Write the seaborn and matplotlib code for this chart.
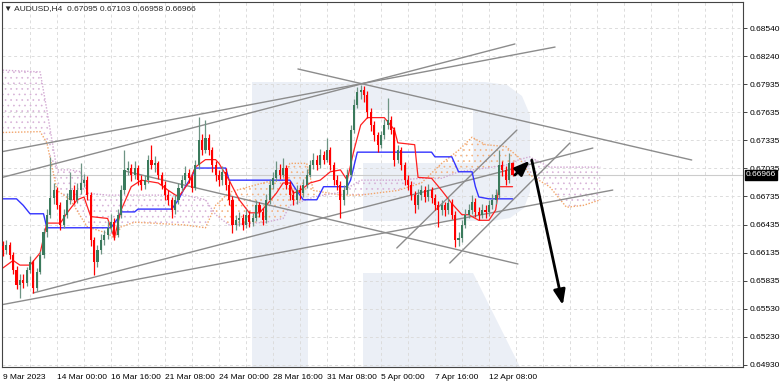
import numpy as np
import matplotlib
matplotlib.use("Agg")
import matplotlib.pyplot as plt
import seaborn as sns
from matplotlib.patches import Polygon

# ---------------- data ----------------
closes = [0.6616, 0.6622, 0.6611, 0.6595, 0.6579, 0.6584, 0.6581, 0.6595, 0.6603, 0.6575,
          0.6593, 0.6611, 0.6635, 0.6654, 0.6672, 0.6680, 0.6664, 0.6643, 0.6654, 0.6670,
          0.6680, 0.6670, 0.6680, 0.6688, 0.6691, 0.6675, 0.6627, 0.6603, 0.6616, 0.6627,
          0.6632, 0.6640, 0.6646, 0.6632, 0.6654, 0.6680, 0.6702, 0.6704, 0.6697, 0.6704,
          0.6691, 0.6686, 0.6691, 0.6713, 0.6707, 0.6709, 0.6697, 0.6686, 0.6675, 0.6670,
          0.6659, 0.6670, 0.6683, 0.6691, 0.6699, 0.6693, 0.6683, 0.6707, 0.6734, 0.6723,
          0.6736, 0.6723, 0.6707, 0.6697, 0.6691, 0.6700, 0.6686, 0.6670, 0.6643, 0.6648,
          0.6650, 0.6643, 0.6654, 0.6646, 0.6650, 0.6664, 0.6657, 0.6648, 0.6670, 0.6686,
          0.6693, 0.6702, 0.6697, 0.6704, 0.6686, 0.6675, 0.6670, 0.6680, 0.6677, 0.6686,
          0.6697, 0.6707, 0.6713, 0.6707, 0.6718, 0.6713, 0.6723, 0.6707, 0.6691, 0.6686,
          0.6670, 0.6680, 0.6697, 0.6745, 0.6772, 0.6785, 0.6788, 0.6782, 0.6764, 0.6750,
          0.6739, 0.6729, 0.6739, 0.6750, 0.6755, 0.6745, 0.6713, 0.6723, 0.6707, 0.6691,
          0.6686, 0.6675, 0.6664, 0.6675, 0.6680, 0.6673, 0.6680, 0.6672, 0.6664, 0.6659,
          0.6664, 0.6659, 0.6667, 0.6654, 0.6627, 0.6629, 0.6643, 0.6654, 0.6659, 0.6668,
          0.6657, 0.6654, 0.6659, 0.6657, 0.6664, 0.6670, 0.6675, 0.6707, 0.6702, 0.6691,
          0.67095, 0.66966]

opens = [0.6620, 0.6616, 0.6622, 0.6611, 0.6595, 0.6579, 0.6584, 0.6581, 0.6595, 0.6603,
         0.6575, 0.6593, 0.6611, 0.6635, 0.6654, 0.6672, 0.6680, 0.6664, 0.6643, 0.6654,
         0.6670, 0.6680, 0.6670, 0.6680, 0.6688, 0.6691, 0.6675, 0.6627, 0.6603, 0.6616,
         0.6627, 0.6632, 0.6640, 0.6646, 0.6632, 0.6654, 0.6680, 0.6702, 0.6704, 0.6697,
         0.6704, 0.6691, 0.6686, 0.6691, 0.6713, 0.6707, 0.6709, 0.6697, 0.6686, 0.6675,
         0.6670, 0.6659, 0.6670, 0.6683, 0.6691, 0.6699, 0.6693, 0.6683, 0.6707, 0.6734,
         0.6723, 0.6736, 0.6723, 0.6707, 0.6697, 0.6691, 0.6700, 0.6686, 0.6670, 0.6643,
         0.6648, 0.6650, 0.6643, 0.6654, 0.6646, 0.6650, 0.6664, 0.6657, 0.6648, 0.6670,
         0.6686, 0.6693, 0.6702, 0.6697, 0.6704, 0.6686, 0.6675, 0.6670, 0.6680, 0.6677,
         0.6686, 0.6697, 0.6707, 0.6713, 0.6707, 0.6718, 0.6713, 0.6723, 0.6707, 0.6691,
         0.6686, 0.6670, 0.6680, 0.6697, 0.6745, 0.6772, 0.6785, 0.6788, 0.6782, 0.6764,
         0.6750, 0.6739, 0.6729, 0.6739, 0.6750, 0.6755, 0.6745, 0.6713, 0.6723, 0.6707,
         0.6691, 0.6686, 0.6675, 0.6664, 0.6675, 0.6680, 0.6673, 0.6680, 0.6672, 0.6664,
         0.6659, 0.6664, 0.6659, 0.6667, 0.6654, 0.6627, 0.6629, 0.6643, 0.6654, 0.6659,
         0.6668, 0.6657, 0.6654, 0.6659, 0.6657, 0.6664, 0.6670, 0.6675, 0.6707, 0.6702,
         0.6691, 0.67095]

highs = [0.6626, 0.6627, 0.6625, 0.6614, 0.6599, 0.6590, 0.6590, 0.6598, 0.6610, 0.6606,
         0.6597, 0.6615, 0.6640, 0.6660, 0.6716, 0.6688, 0.6684, 0.6668, 0.6660, 0.6677,
         0.6700, 0.6686, 0.6688, 0.6709, 0.6698, 0.6695, 0.6678, 0.6630, 0.6622, 0.6633,
         0.6638, 0.6647, 0.6655, 0.6650, 0.6660, 0.6686, 0.6723, 0.6712, 0.6708, 0.6711,
         0.6707, 0.6696, 0.6697, 0.6718, 0.6729, 0.6717, 0.6712, 0.6700, 0.6690, 0.6680,
         0.6673, 0.6675, 0.6688, 0.6697, 0.6706, 0.6703, 0.6697, 0.6713, 0.6759, 0.6740,
         0.6755, 0.6740, 0.6727, 0.6712, 0.6702, 0.6706, 0.6704, 0.6690, 0.6674, 0.6654,
         0.6657, 0.6655, 0.6660, 0.6658, 0.6656, 0.6670, 0.6668, 0.6661, 0.6676, 0.6692,
         0.6700, 0.6712, 0.6708, 0.6715, 0.6707, 0.6690, 0.6680, 0.6686, 0.6686, 0.6692,
         0.6703, 0.6713, 0.6720, 0.6718, 0.6724, 0.6722, 0.6736, 0.6727, 0.6710, 0.6696,
         0.6690, 0.6686, 0.6703, 0.6750, 0.6778, 0.6791, 0.6793, 0.6792, 0.6786, 0.6768,
         0.6754, 0.6743, 0.6744, 0.6756, 0.6779, 0.6760, 0.6748, 0.6729, 0.6727, 0.6710,
         0.6696, 0.6690, 0.6679, 0.6681, 0.6686, 0.6685, 0.6687, 0.6684, 0.6676, 0.6669,
         0.6670, 0.6668, 0.6673, 0.6671, 0.6658, 0.6636, 0.6648, 0.6660, 0.6666, 0.6675,
         0.6672, 0.6662, 0.6665, 0.6664, 0.6670, 0.6676, 0.6681, 0.6723, 0.6712, 0.6706,
         0.6720, 0.67103]

lows = [0.6610, 0.6612, 0.6607, 0.6590, 0.6574, 0.6565, 0.6575, 0.6578, 0.6592, 0.6570,
        0.6572, 0.6590, 0.6608, 0.6630, 0.6650, 0.6666, 0.6660, 0.6638, 0.6640, 0.6651,
        0.6666, 0.6665, 0.6667, 0.6676, 0.6684, 0.6670, 0.6620, 0.6589, 0.6598, 0.6612,
        0.6622, 0.6628, 0.6636, 0.6627, 0.6630, 0.6650, 0.6676, 0.6696, 0.6690, 0.6692,
        0.6686, 0.6680, 0.6682, 0.6688, 0.6703, 0.6700, 0.6692, 0.6681, 0.6670, 0.6664,
        0.6651, 0.6655, 0.6666, 0.6679, 0.6687, 0.6688, 0.6678, 0.6680, 0.6703, 0.6718,
        0.6720, 0.6718, 0.6700, 0.6690, 0.6685, 0.6686, 0.6680, 0.6664, 0.6634, 0.6638,
        0.6642, 0.6638, 0.6640, 0.6641, 0.6642, 0.6647, 0.6652, 0.6643, 0.6645, 0.6666,
        0.6682, 0.6690, 0.6692, 0.6694, 0.6681, 0.6670, 0.6664, 0.6666, 0.6671, 0.6673,
        0.6683, 0.6694, 0.6703, 0.6702, 0.6704, 0.6708, 0.6710, 0.6702, 0.6686, 0.6680,
        0.6651, 0.6664, 0.6676, 0.6694, 0.6741, 0.6768, 0.6778, 0.6775, 0.6758, 0.6744,
        0.6733, 0.6721, 0.6725, 0.6735, 0.6746, 0.6740, 0.6706, 0.6709, 0.6702, 0.6686,
        0.6680, 0.6670, 0.6656, 0.6660, 0.6670, 0.6668, 0.6669, 0.6667, 0.6659, 0.6641,
        0.6654, 0.6653, 0.6655, 0.6649, 0.6619, 0.6621, 0.6625, 0.6640, 0.6650, 0.6655,
        0.6652, 0.6648, 0.6650, 0.6651, 0.6653, 0.6660, 0.6666, 0.6672, 0.6695, 0.6686,
        0.6688, 0.66958]

tenkan_bars = [0, 3, 5, 8, 11, 13, 17, 19, 22, 24, 26, 31, 33, 35, 38, 41, 46, 49, 52, 55,
               57, 60, 63, 64, 67, 70, 73, 76, 78, 81, 83, 85, 86, 88, 91, 94, 97, 100, 102, 104,
               106, 108, 113, 116, 117, 122, 123, 127, 130, 133, 136, 138, 141, 144, 146, 147, 151]
tenkan_vals = [0.6597, 0.6605, 0.6600, 0.6600, 0.6613, 0.6645, 0.6645, 0.6656, 0.6670, 0.6673,
               0.6652, 0.6650, 0.6629, 0.6659, 0.6684, 0.6691, 0.6688, 0.6680, 0.6673, 0.6688,
               0.6705, 0.6713, 0.6713, 0.6709, 0.6691, 0.6670, 0.6656, 0.6656, 0.6664, 0.6677,
               0.6688, 0.6688, 0.6677, 0.6680, 0.6688, 0.6691, 0.6700, 0.6702, 0.6691, 0.6723,
               0.6750, 0.6758, 0.6758, 0.6745, 0.6731, 0.6729, 0.6694, 0.6693, 0.6680, 0.6666,
               0.6654, 0.6654, 0.6648, 0.6648, 0.6659, 0.6684, 0.6684]

kijun_bars = [0, 4, 6, 8, 12, 13, 32, 34, 35, 39, 40, 50, 52, 54, 56, 57, 66, 67, 85, 87,
              89, 93, 95, 102, 103, 105, 127, 128, 133, 135, 139, 140, 141, 144, 151]
kijun_vals = [0.6671, 0.6671, 0.6664, 0.6655, 0.6655, 0.6640, 0.6640, 0.6650, 0.6657, 0.6657,
              0.6660, 0.6660, 0.6670, 0.6684, 0.6695, 0.6704, 0.6704, 0.6691, 0.6691, 0.6680,
              0.6670, 0.6670, 0.6684, 0.6684, 0.6691, 0.6721, 0.6721, 0.6716, 0.6716, 0.6700,
              0.6700, 0.6684, 0.6673, 0.6671, 0.6671]

cloud_bars = [-1, 11, 13, 16, 20, 23, 25, 31, 33, 35, 39, 54, 60, 63, 67, 78, 83, 85, 90, 92,
              100, 106, 117, 124, 130, 135, 139, 143, 149, 153, 156, 162, 167, 172, 177]
span_a = [0.6742, 0.6743, 0.6731, 0.6680, 0.6670, 0.6652, 0.6641, 0.6634, 0.6629, 0.6641,
          0.6646, 0.6643, 0.6640, 0.6664, 0.6678, 0.6689, 0.6691, 0.6709, 0.6709, 0.6680,
          0.6675, 0.6675, 0.6680, 0.6688, 0.6709, 0.6723, 0.6737, 0.6729, 0.6727, 0.6715,
          0.6697, 0.6684, 0.6662, 0.6664, 0.6670]
span_b = [0.6809, 0.6807, 0.6766, 0.6702, 0.6702, 0.6700, 0.6677, 0.6675, 0.6675, 0.6675,
          0.6675, 0.6675, 0.6670, 0.6654, 0.6643, 0.6646, 0.6650, 0.6664, 0.6670, 0.6673,
          0.6678, 0.6691, 0.6691, 0.6693, 0.6693, 0.6700, 0.6702, 0.6704, 0.6707, 0.6713,
          0.6716, 0.6705, 0.6705, 0.6705, 0.6705]

# trend lines: (bar0, price0, bar1, price1)
trend_lines = [(-0.9, 0.66933, 151.7, 0.68369),
               (-0.9, 0.67211, 163.6, 0.68336),
               (8.9, 0.65701, 174.8, 0.67254),
               (-0.9, 0.65572, 180.7, 0.66804),
               (87.4, 0.68101, 204.1, 0.67126),
               (36.1, 0.67008, 152.6, 0.66012),
               (116.7, 0.66183, 152.3, 0.67447),
               (132.4, 0.66022, 168.0, 0.67308)]
arrows = [(151.7, 0.66965, 156.1, 0.67118),
          (156.7, 0.67126, 165.9, 0.65572)]

ytick_vals = [0.68540, 0.68240, 0.67935, 0.67635, 0.67335, 0.67035, 0.66735,
              0.66435, 0.66135, 0.65835, 0.65530, 0.65230, 0.64930]
xtick_bars = [0, 16, 32, 48, 64, 80, 96, 112, 128, 144]
xtick_labels = ["9 Mar 2023", "14 Mar 00:00", "16 Mar 16:00", "21 Mar 08:00", "24 Mar 00:00",
                "28 Mar 16:00", "31 Mar 08:00", "5 Apr 00:00", "7 Apr 16:00", "12 Apr 08:00"]
header = "\u25bc AUDUSD,H4  0.67095 0.67103 0.66958 0.66966"
last_price = 0.66966

# ---------------- figure ----------------
sns.set_style("white")
plt.rcParams['font.family'] = ['Liberation Sans', 'DejaVu Sans']
plt.rcParams['hatch.linewidth'] = 0.45

W, H = 782, 385
fig = plt.figure(figsize=(W / 100, H / 100), dpi=100)
ax = fig.add_axes([2 / W, (H - 367) / H, (743 - 2) / W, (367 - 2) / H])
ax.set_xlim(-0.3, 219.3)
ax.set_ylim(0.649085, 0.688186)


def px(x, y):
    return (x / W, 1 - y / H)


# watermark logo
wm = "#ebeff6"
logo1 = [(252, 82), (485, 82), (507, 85), (522, 96), (530, 115), (530, 192), (524, 208),
         (510, 218), (492, 221), (363, 221), (363, 163), (473, 163), (473, 110), (308, 110),
         (308, 367), (252, 367)]
logo2 = [(363, 273), (473, 273), (520, 367), (363, 367)]
for poly in (logo1, logo2):
    ax.add_patch(Polygon([px(*p) for p in poly], closed=True, transform=fig.transFigure,
                         facecolor=wm, edgecolor='none', zorder=0.2))

# grid
for yv in ytick_vals:
    ax.axhline(yv, color="#dcdcdc", lw=0.7, ls=(0, (3, 3)), zorder=0.5)
for b in range(8, 220, 8):
    ax.axvline(b, color="#dcdcdc", lw=0.7, ls=(0, (3, 3)), zorder=0.5)
ax.axhline(last_price, color="#cccccc", lw=0.8, zorder=0.6)

# cloud
ca = np.array(span_a)
cb = np.array(span_b)
ax.fill_between(cloud_bars, ca, cb, where=ca >= cb, interpolate=True, facecolor='none',
                edgecolor='#f4b07c', hatch='...', linewidth=0, zorder=0.8)
ax.fill_between(cloud_bars, ca, cb, where=cb > ca, interpolate=True, facecolor='none',
                edgecolor='#d6b0d6', hatch='...', linewidth=0, zorder=0.8)
ax.plot(cloud_bars, span_a, ls=(0, (1, 1.2)), color='#f2a56a', lw=1.0, zorder=0.9)
ax.plot(cloud_bars, span_b, ls=(0, (1, 1.2)), color='#d2a8d2', lw=1.0, zorder=0.9)

# trend lines
for (b0, p0, b1, p1) in trend_lines:
    ax.plot([b0, b1], [p0, p1], color="#8c8c8c", lw=1.0, zorder=1.5)

# kijun / tenkan
sns.lineplot(x=kijun_bars, y=kijun_vals, ax=ax, color="#3333ff", lw=1.0, sort=False,
             estimator=None, zorder=2)
sns.lineplot(x=tenkan_bars, y=tenkan_vals, ax=ax, color="#ff2020", lw=0.9, sort=False,
             estimator=None, zorder=2.1)

# candles
o = np.array(opens); c = np.array(closes); h = np.array(highs); l = np.array(lows)
xb = np.arange(len(c))
up = c >= o
bull_body, bull_wick, bear = "#3a7a5c", "#6e9484", "#ff0000"
ax.vlines(xb[up], l[up], h[up], color=bull_wick, lw=0.9, zorder=3)
ax.vlines(xb[~up], l[~up], h[~up], color=bear, lw=0.9, zorder=3)
body_lo = np.minimum(o, c)
body_h = np.maximum(np.abs(c - o), 0.00005)
ax.bar(xb[up], body_h[up], bottom=body_lo[up], width=0.62, color=bull_body, lw=0, zorder=3.2)
ax.bar(xb[~up], body_h[~up], bottom=body_lo[~up], width=0.62, color=bear, lw=0, zorder=3.2)

# arrows
for (b0, p0, b1, p1) in arrows:
    ax.annotate("", xy=(b1, p1), xytext=(b0, p0),
                arrowprops=dict(arrowstyle="-|>,head_length=0.9,head_width=0.35",
                                color="black", lw=2.0, shrinkA=0, shrinkB=0), zorder=4)

# axes styling
for s in ax.spines.values():
    s.set_color("#444444")
    s.set_linewidth(0.8)
ax.yaxis.tick_right()
ax.set_yticks(ytick_vals)
ax.set_yticklabels([f"{v:.5f}" for v in ytick_vals])
ax.set_xticks(xtick_bars)
ax.set_xticklabels(xtick_labels, ha='left')
ax.tick_params(axis='y', length=3, width=0.7, pad=2, labelsize=6, colors="#444444",
               labelcolor="black")
ax.tick_params(axis='x', length=4, width=0.7, pad=1, labelsize=6, colors="#444444",
               labelcolor="black")
ax.set_xlabel(""); ax.set_ylabel("")

# current price box (drawn over the neighbouring tick label, as in the reference)
ax.annotate(f"{last_price:.5f}", xy=(1.0, last_price), xycoords=('axes fraction', 'data'),
            xytext=(2, 0), textcoords='offset points', ha='left', va='center', fontsize=6,
            color='white', annotation_clip=False,
            bbox=dict(boxstyle='square,pad=0.15', fc='black', ec='black'), zorder=10)

fig.text(4 / W, 1 - 9 / H, header, fontsize=6, va='center', ha='left',
         family=['Liberation Sans', 'DejaVu Sans'])

fig.savefig("out.png", dpi=100)
